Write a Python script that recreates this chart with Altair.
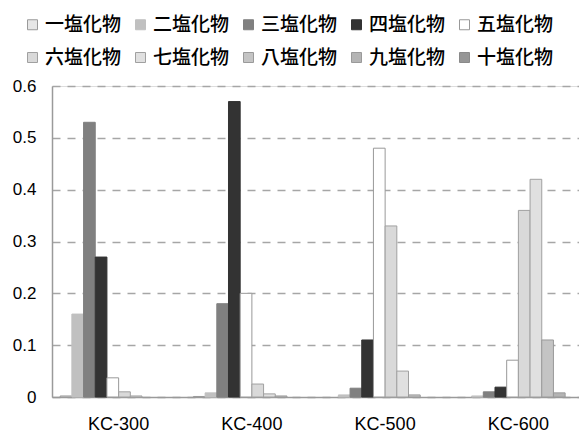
import altair as alt
import pandas as pd

# Samples on the x axis and chlorinated congener groups (series)
samples = ["KC-300", "KC-400", "KC-500", "KC-600"]
congeners = ["一塩化物", "二塩化物", "三塩化物", "四塩化物", "五塩化物",
             "六塩化物", "七塩化物", "八塩化物", "九塩化物", "十塩化物"]

# Composition of each sample (fraction), one list per congener group
mono = [0.002, 0.001, 0.0, 0.0]
di = [0.16, 0.008, 0.004, 0.002]
tri = [0.53, 0.18, 0.017, 0.01]
tetra = [0.27, 0.57, 0.11, 0.019]
penta = [0.037, 0.2, 0.48, 0.071]
hexa = [0.01, 0.025, 0.33, 0.36]
hepta = [0.002, 0.006, 0.05, 0.42]
octa = [0.0, 0.002, 0.004, 0.11]
nona = [0.0, 0.0, 0.0, 0.008]
deca = [0.0, 0.0, 0.0, 0.0]

series = [mono, di, tri, tetra, penta, hexa, hepta, octa, nona, deca]

fill_colors = ["#e6e6e6", "#c0c0c0", "#808080", "#333333", "#ffffff",
               "#d9d9d9", "#e0e0e0", "#c4c4c4", "#b4b4b4", "#969696"]
stroke_colors = ["#9a9a9a", "#c0c0c0", "#808080", "#333333", "#999999",
                 "#a0a0a0", "#a0a0a0", "#9a9a9a", "#9a9a9a", "#8a8a8a"]

rows = []
for name, vals in zip(congeners, series):
    for s, v in zip(samples, vals):
        rows.append({"sample": s, "group": name, "value": v})
df = pd.DataFrame(rows)

latin = "Liberation Sans, Arial, Noto Sans CJK JP"
cjk = "Noto Sans CJK JP"

legend = alt.Legend(
    title=None, orient="none", legendX=-29, legendY=-71,
    columns=5, direction="horizontal",
    symbolType="square", symbolSize=100, symbolStrokeWidth=1,
    labelFont=cjk, labelFontSize=19, labelFontWeight=500, labelColor="#000000",
    labelOffset=3, columnPadding=9, rowPadding=13, labelLimit=200,
)

chart = alt.Chart(df).transform_filter(
    "datum.value > 0"
).mark_bar(strokeWidth=1).encode(
    x=alt.X("sample:N", sort=samples, title=None,
            scale=alt.Scale(range=[0, 533], paddingInner=0, paddingOuter=0),
            axis=alt.Axis(labelAngle=0, labelFont=latin, labelFontSize=18,
                          labelColor="#000000", labelPadding=18, ticks=False,
                          domainColor="#9a9a9a", domainWidth=1.5, grid=False)),
    xOffset=alt.XOffset("group:N", sort=congeners,
                        scale=alt.Scale(domain=congeners, paddingInner=0, paddingOuter=0.7)),
    y=alt.Y("value:Q", title=None,
            scale=alt.Scale(domain=[0, 0.6], nice=False),
            axis=alt.Axis(values=[0, 0.1, 0.2, 0.3, 0.4, 0.5, 0.6],
                          labelExpr="datum.value == 0 ? '0' : format(datum.value, '.1f')",
                          labelFont=latin, labelFontSize=17, labelColor="#000000",
                          labelPadding=16, ticks=False,
                          domainColor="#9a9a9a", domainWidth=1.5,
                          gridColor="#a6a6a6", gridWidth=1.5, gridDash=[8, 7])),
    fill=alt.Fill("group:N", sort=congeners,
                  scale=alt.Scale(domain=congeners, range=fill_colors),
                  legend=legend),
    stroke=alt.Stroke("group:N", sort=congeners,
                      scale=alt.Scale(domain=congeners, range=stroke_colors),
                      legend=legend),
).properties(
    width=527, height=311,
    padding={"left": 52, "top": 86, "right": 0, "bottom": 38},
    autosize=alt.AutoSizeParams(type="none"),
).configure_view(stroke=None).configure(
    background="#ffffff"
).configure_legend(
    labelFont=cjk, labelFontSize=19, labelFontWeight=500, labelColor="#000000"
)

chart.save("out.html", embed_options={"renderer": "svg", "actions": False})
